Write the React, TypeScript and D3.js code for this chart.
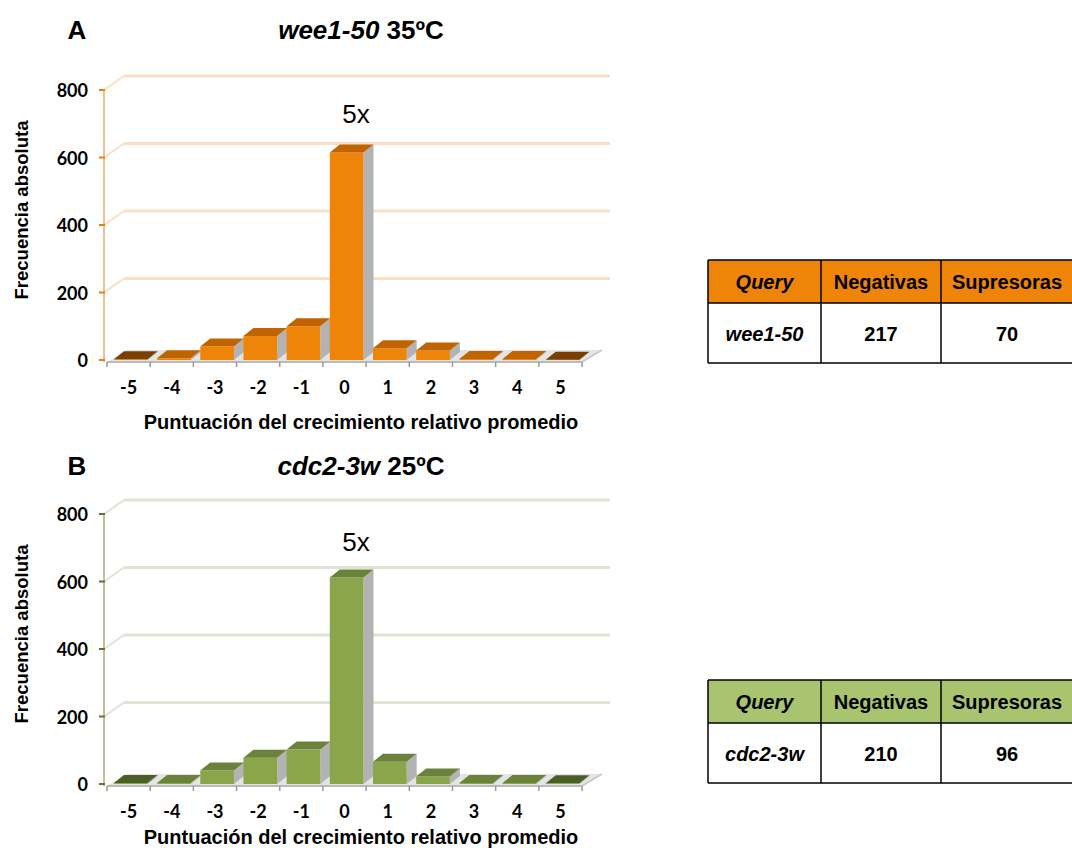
import React from "react";
import * as d3 from "d3";

const categories = ["-5", "-4", "-3", "-2", "-1", "0", "1", "2", "3", "4", "5"];
const valuesA = [2, 5, 40, 71, 100, 615, 35, 28, 3, 3, 1];
const valuesB = [3, 3, 40, 78, 102, 612, 66, 22, 3, 3, 2];
const yTicks = [0, 200, 400, 600, 800];
const tableHeaders = ["Query", "Negativas", "Supresoras"];
const tableA = ["wee1-50", "217", "70"];
const tableB = ["cdc2-3w", "210", "96"];

type Theme = {
  front: string; top: string; edgeTop: string; grid: string; axis: string; tick: string; header: string;
};

const themeA: Theme = { front: "#EE8408", top: "#C06400", edgeTop: "#7A3F00", grid: "#FADFC4", axis: "#F3C08E", tick: "#ED7D0E", header: "#EE8408" };
const themeB: Theme = { front: "#8BA54B", top: "#6B823A", edgeTop: "#4A5E28", grid: "#E0E4D4", axis: "#B9C49C", tick: "#5F7530", header: "#A8C46F" };

const SANS = "'Liberation Sans', Arial, sans-serif";
const TICKF = "Lato, 'Open Sans', sans-serif";

type PanelProps = {
  y0: number; values: number[]; theme: Theme; letter: string; italic: string; rest: string;
  titleY: number; labelY: number; fiveY: number;
};

function Panel({ y0, values, theme, letter, italic, rest, titleY, labelY, fiveY }: PanelProps) {
  const y = d3.scaleLinear().domain([0, 800]).range([y0, y0 - 270]);
  const x = d3.scaleBand().domain(categories).range([107, 582]);
  const bw = x.bandwidth();
  const wdx = 20, wdy = -14;
  const bdx = 10, bdy = -8;
  const axisX = 104;
  const floorY = y(0) + 2;
  return (
    <g>
      <text x={77} y={titleY} fontFamily={SANS} fontWeight="bold" fontSize={26} textAnchor="middle">{letter}</text>
      <text x={361} y={titleY} fontFamily={SANS} fontWeight="bold" fontSize={26} textAnchor="middle">
        <tspan fontStyle="italic">{italic}</tspan> {rest}
      </text>
      {yTicks.map((t) => (
        <g key={t}>
          {t > 0 && <line x1={axisX + wdx} x2={610} y1={y(t) + wdy} y2={y(t) + wdy} stroke={theme.grid} strokeWidth={3} />}
          {t > 0 && <line x1={axisX} x2={axisX + wdx} y1={y(t)} y2={y(t) + wdy} stroke={theme.grid} strokeWidth={2} />}
        </g>
      ))}
      <polygon points={`${x(categories[0])!},${floorY} ${582},${floorY} ${602},${floorY - 12} ${127},${floorY - 12}`} fill="#E4E4E4" />
      <line x1={x(categories[0])!} x2={582} y1={floorY} y2={floorY} stroke="#A8A8A8" strokeWidth={1.5} />
      <line x1={582} x2={602} y1={floorY} y2={floorY - 12} stroke="#C8C8C8" strokeWidth={1.5} />
      {[...categories.map((c) => x(c)!), 582].map((xx, i) => (
        <line key={i} x1={xx} x2={xx} y1={floorY} y2={floorY + 5} stroke="#999" strokeWidth={1.5} />
      ))}
      <line x1={axisX} x2={axisX} y1={y(800)} y2={floorY} stroke={theme.axis} strokeWidth={2} />
      {yTicks.map((t) => (
        <g key={t}>
          <line x1={axisX - 5} x2={axisX + 1} y1={y(t)} y2={y(t)} stroke={theme.tick} strokeWidth={2} />
          <text x={88} y={y(t) + 7} textAnchor="end" fontFamily={TICKF} fontWeight="bold" fontSize={18}>{t}</text>
        </g>
      ))}
      {values.map((v, i) => {
        const c = categories[i];
        const x0 = x(c)! + bw * 0.16;
        const x1 = x(c)! + bw * 0.94;
        const yt = y(v);
        const yb = y(0);
        const edge = i === 0 || i === values.length - 1;
        return (
          <g key={c}>
            <polygon points={`${x1},${yb} ${x1 + bdx},${yb + bdy} ${x1 + bdx},${yt + bdy} ${x1},${yt}`} fill="#B3B3B3" />
            <rect x={x0} y={yt} width={x1 - x0} height={yb - yt} fill={theme.front} />
            <polygon points={`${x0},${yt} ${x1},${yt} ${x1 + bdx},${yt + bdy} ${x0 + bdx},${yt + bdy}`} fill={edge ? theme.edgeTop : theme.top} />
          </g>
        );
      })}
      <text x={356} y={fiveY} textAnchor="middle" fontFamily={SANS} fontSize={26}>5x</text>
      {categories.map((c) => (
        <text key={c} x={x(c)! + bw / 2} y={y0 + 34} textAnchor="middle" fontFamily={TICKF} fontWeight="bold" fontSize={18}>{c}</text>
      ))}
      <text x={361} y={labelY} textAnchor="middle" fontFamily={SANS} fontWeight="bold" fontSize={20}>Puntuación del crecimiento relativo promedio</text>
      <text transform={`translate(28,${y0 - 150}) rotate(-90)`} textAnchor="middle" fontFamily={SANS} fontWeight="bold" fontSize={18.5}>Frecuencia absoluta</text>
    </g>
  );
}

function Table({ top, theme, row }: { top: number; theme: Theme; row: string[] }) {
  const cols = [708, 821, 941, 1090];
  const centers = [764.5, 881, 1007];
  const hb = top + 43;
  const bottom = top + 103;
  return (
    <g>
      <rect x={cols[0]} y={top} width={cols[3] - cols[0]} height={hb - top} fill={theme.header} />
      <rect x={cols[0]} y={hb} width={cols[3] - cols[0]} height={bottom - hb} fill="#fff" />
      {tableHeaders.map((h, i) => (
        <text key={h} x={centers[i]} y={top + 29} textAnchor="middle" fontFamily={SANS} fontWeight="bold" fontStyle={i === 0 ? "italic" : "normal"} fontSize={20}>{h}</text>
      ))}
      {row.map((h, i) => (
        <text key={i} x={centers[i]} y={hb + 38} textAnchor="middle" fontFamily={SANS} fontWeight="bold" fontStyle={i === 0 ? "italic" : "normal"} fontSize={20}>{h}</text>
      ))}
      <line x1={cols[0]} x2={1072} y1={top} y2={top} stroke="#000" strokeWidth={1.5} />
      <line x1={cols[0]} x2={1072} y1={hb} y2={hb} stroke="#000" strokeWidth={1.5} />
      <line x1={cols[0]} x2={1072} y1={bottom} y2={bottom} stroke="#000" strokeWidth={1.5} />
      {cols.slice(0, 3).map((c) => (
        <line key={c} x1={c} x2={c} y1={top} y2={bottom} stroke="#000" strokeWidth={1.5} />
      ))}
    </g>
  );
}

export default function App() {
  return (
    <svg width={1072} height={848} style={{ position: "absolute", left: 0, top: 0, background: "#fff" }}>
      <rect width={1072} height={848} fill="#fff" />
      <Panel y0={360} values={valuesA} theme={themeA} letter="A" italic="wee1-50" rest="35ºC" titleY={39} labelY={429} fiveY={123} />
      <Panel y0={784} values={valuesB} theme={themeB} letter="B" italic="cdc2-3w" rest="25ºC" titleY={475} labelY={844} fiveY={551} />
      <Table top={260} theme={themeA} row={tableA} />
      <Table top={680} theme={themeB} row={tableB} />
    </svg>
  );
}
